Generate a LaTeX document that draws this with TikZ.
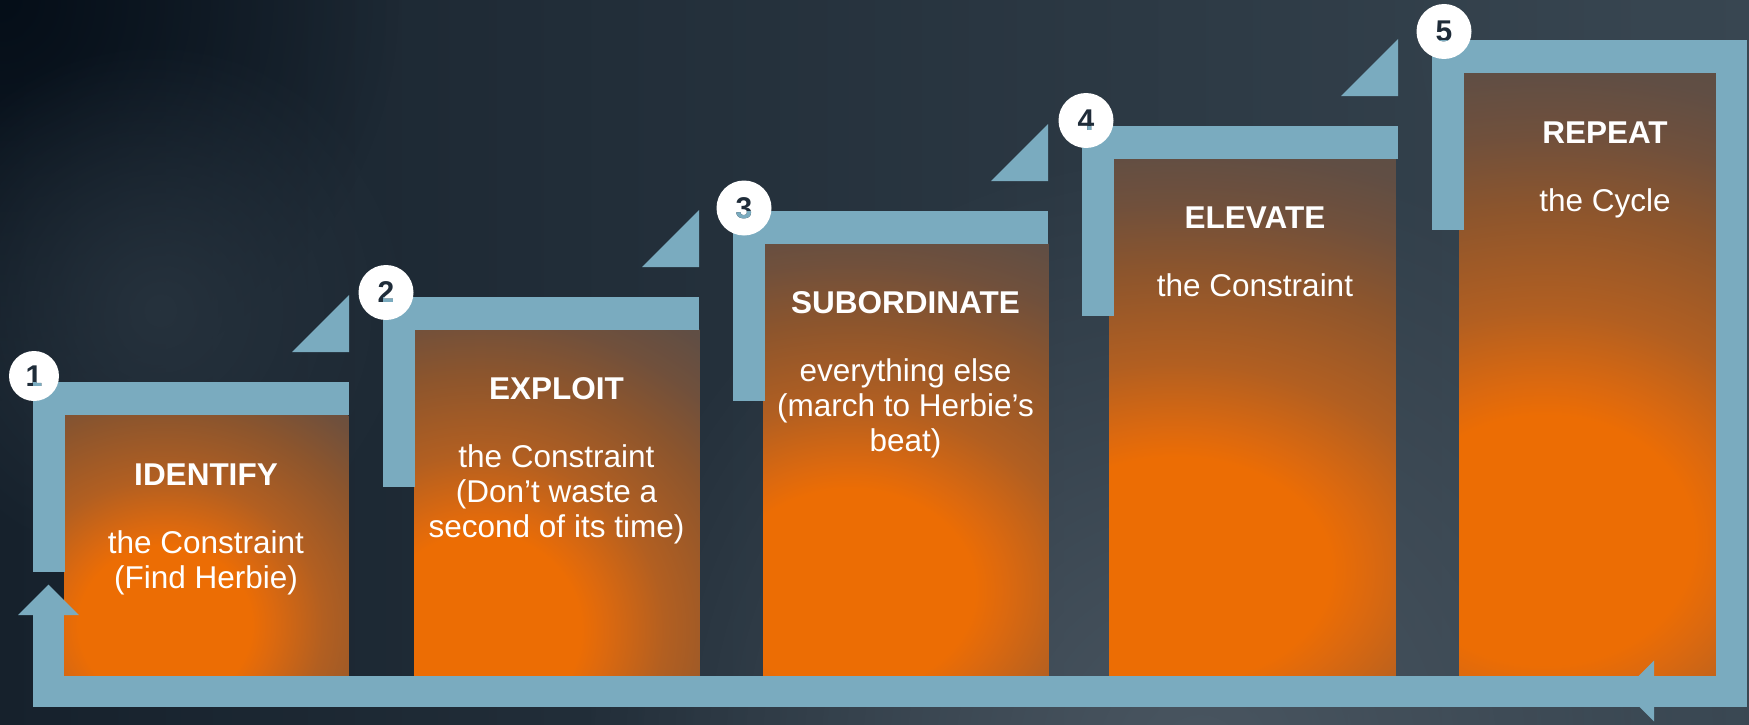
\documentclass[tikz,border=0pt]{standalone}
\usepackage{fontspec}
\setmainfont{Liberation Sans}
\usetikzlibrary{fadings}

\definecolor{bgA}{HTML}{16212C}
\definecolor{bgB}{HTML}{384651}
\definecolor{bgDark}{HTML}{050E18}
\definecolor{bgSoft}{HTML}{26323D}
\definecolor{bgLight}{HTML}{4A5661}
\definecolor{barblue}{HTML}{7AABBF}
\definecolor{numink}{HTML}{1F2C39}
\definecolor{glowA}{HTML}{EC6D04}
\definecolor{glowB}{HTML}{DC690F}
\definecolor{glowC}{HTML}{B25F21}
\definecolor{glowD}{HTML}{8C552D}
\definecolor{glowE}{HTML}{70503C}
\definecolor{glowF}{HTML}{604E44}
\definecolor{panelTop}{HTML}{5D4D45}

% orange glow; 25bp is the rim of the ellipse that carries it
\pgfdeclareradialshading{panelglow}{\pgfpoint{0bp}{0bp}}{%
  color(0bp)=(glowA); color(6bp)=(glowA); color(7.5bp)=(glowB);
  color(11bp)=(glowC); color(16bp)=(glowD); color(19.5bp)=(glowE);
  color(22.5bp)=(glowF); color(25bp)=(panelTop); color(50bp)=(panelTop)}

\tikzfading[name=softdisc, inner color=transparent!0, outer color=transparent!100]

\tikzset{
  bar/.style={fill=barblue, draw=none},
  stepbox/.style={fill=panelTop, draw=none, inner sep=0pt,
    anchor=north west, minimum width=#1},
  stepbox/.default=285pt,
  steptitle/.style={anchor=base, text=white, inner sep=0pt,
    font=\fontsize{31.5}{35}\selectfont\bfseries},
  stepbody/.style={anchor=base, text=white, inner sep=0pt, align=center,
    font=\fontsize{31.5}{35}\selectfont},
  numdisc/.style={circle, fill=white, draw=none, inner sep=0pt, minimum size=#1},
  numdisc/.default=55pt,
  numtext/.style={inner sep=0pt, text=numink,
    font=\fontsize{30}{30}\selectfont\bfseries},
}

% glow inside a panel: panel name, centre x, centre y, x radius, y radius
\newcommand\panelglow[5]{%
  \begin{scope}
    \clip (#1.north west) rectangle (#1.south east);
    \shade[shading=panelglow] (#2,#3) ellipse [x radius=#4, y radius=#5];
  \end{scope}
}
% one stair bracket: left post and top beam, left edge x, top y, right end r
\newcommand\stairbracket[3]{%
  \fill[bar] (#1,#2) rectangle (#1+32,#2+190);
  \fill[bar] (#1,#2) rectangle (#3,#2+33);
}
% arrow tip above the right end of a beam
\newcommand\stairtip[2]{%
  \fill[bar] (#1,#2-30) -- (#1,#2-87) -- (#1-57,#2-30) -- cycle;
}

\begin{document}
\begin{tikzpicture}[x=1pt, y=-1pt]
\useasboundingbox (0,0) rectangle (1749,725);

% backdrop
\shade[left color=bgA, right color=bgB] (0,0) rectangle (1749,725);
\fill[bgLight, path fading=softdisc] (1200,760) circle (620);
\fill[bgDark, path fading=softdisc] (0,0) circle (400);
\fill[bgSoft, path fading=softdisc] (160,310) circle (270);
\fill[bgB, path fading=softdisc, opacity=0.6] (1650,40) circle (300);

% panels
\node[stepbox=284pt, minimum height=263pt] (box1) at (64,415) {};
\node[stepbox=285pt, minimum height=349pt] (box2) at (414,329) {};
\node[stepbox=285pt, minimum height=435pt] (box3) at (763,243) {};
\node[stepbox=286pt, minimum height=520pt] (box4) at (1109,158) {};
\node[stepbox=257pt, minimum height=605pt] (box5) at (1459,73) {};
\panelglow{box1}{165}{625}{360}{330}
\panelglow{box2}{480}{630}{420}{400}
\panelglow{box3}{850}{590}{520}{420}
\panelglow{box4}{1175}{570}{650}{470}
\panelglow{box5}{1545}{540}{620}{520}

% return loop along the bottom
\fill[bar] (33,675.5) rectangle (1747,706.5);
\fill[bar] (1716,40) rectangle (1747,706.5);
\fill[bar] (33,610) rectangle (64,706.5);
\fill[bar] (18,615) -- (79,615) -- (48.5,584.5) -- cycle;
\fill[bar] (1654,660.5) -- (1654,721.5) -- (1623.5,691) -- cycle;

% stairs
\stairbracket{33}{382}{349}
\stairbracket{383}{297}{699}
\stairbracket{733}{211}{1048}
\stairbracket{1082}{126}{1398}
\stairbracket{1432}{40}{1747}
\stairtip{349}{382}
\stairtip{699}{297}
\stairtip{1048}{211}
\stairtip{1398}{126}

% labels (a multi-line label sits on the baseline of its last line)
\node[steptitle] (t1) at (206,485) {IDENTIFY};
\node[stepbody]  (b1) at (206,588) {the Constraint\\(Find Herbie)};
\node[steptitle] (t2) at (556.5,399) {EXPLOIT};
\node[stepbody]  (b2) at (556.5,537) {the Constraint\\(Don’t waste a\\second of its time)};
\node[steptitle] (t3) at (905.5,313) {SUBORDINATE};
\node[stepbody]  (b3) at (905.5,451.5) {everything else\\(march to Herbie’s\\beat)};
\node[steptitle] (t4) at (1255,228) {ELEVATE};
\node[stepbody]  (b4) at (1255,296.5) {the Constraint};
\node[steptitle] (t5) at (1605,143) {REPEAT};
\node[stepbody]  (b5) at (1605,211) {the Cycle};

% numbered discs; the digits are see-through where they cross a beam
\node[numdisc=50pt] (c1) at (34,376) {};
\node[numdisc] (c2) at (386,292.5) {};
\node[numdisc] (c3) at (744,208) {};
\node[numdisc] (c4) at (1086,120.5) {};
\node[numdisc] (c5) at (1444,31.5) {};
\node[numtext] (d1) at (c1) {1};
\node[numtext] (d2) at (c2) {2};
\node[numtext] (d3) at (c3) {3};
\node[numtext] (d4) at (c4) {4};
\node[numtext] (d5) at (c5) {5};
\begin{scope}
  \clip (33,382) rectangle (349,415) (33,382) rectangle (65,572);
  \node[numtext, text=barblue] (e1) at (c1) {1};
\end{scope}
\begin{scope}
  \clip (383,297) rectangle (699,330) (383,297) rectangle (415,487);
  \node[numtext, text=barblue] (e2) at (c2) {2};
\end{scope}
\begin{scope}
  \clip (733,211) rectangle (1048,244) (733,211) rectangle (765,401);
  \node[numtext, text=barblue] (e3) at (c3) {3};
\end{scope}
\begin{scope}
  \clip (1082,126) rectangle (1398,159) (1082,126) rectangle (1114,316);
  \node[numtext, text=barblue] (e4) at (c4) {4};
\end{scope}
\begin{scope}
  \clip (1432,40) rectangle (1747,73) (1432,40) rectangle (1464,230);
  \node[numtext, text=barblue] (e5) at (c5) {5};
\end{scope}
\end{tikzpicture}
\end{document}
